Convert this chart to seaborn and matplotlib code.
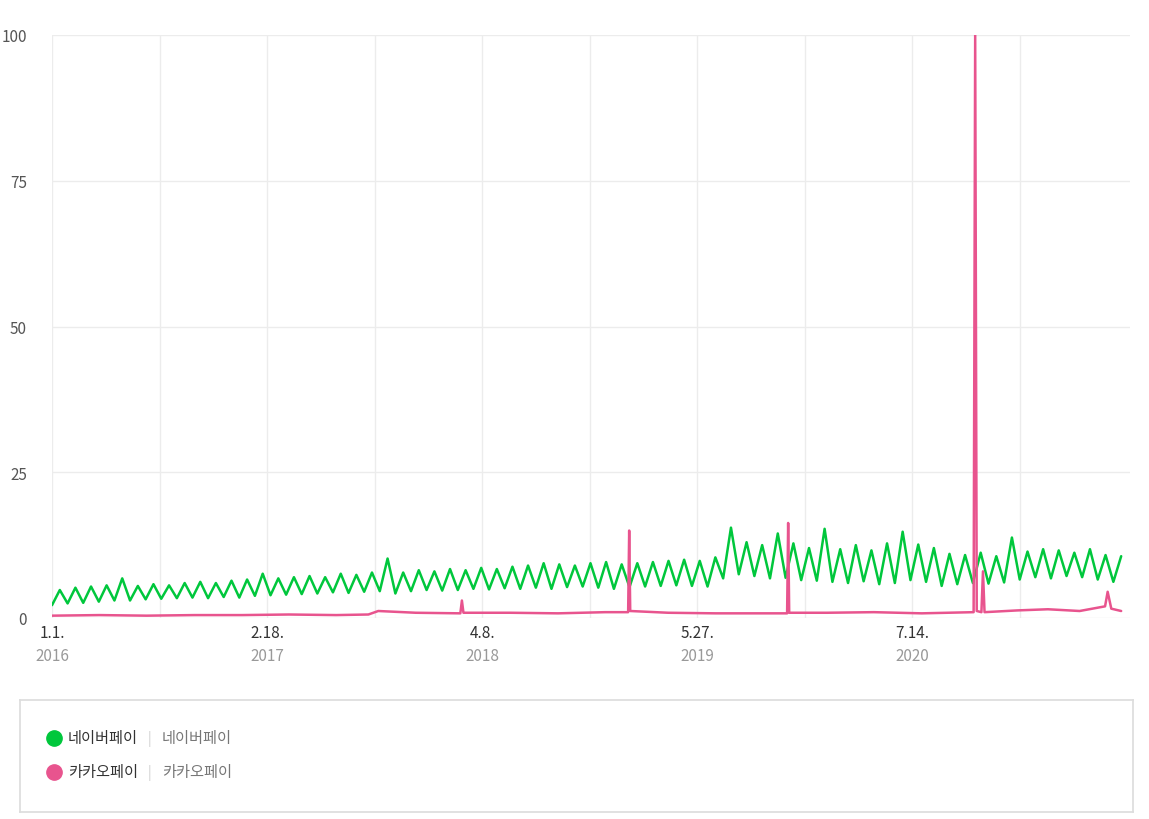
import matplotlib
matplotlib.use("Agg")
import matplotlib.pyplot as plt
import seaborn as sns
import pandas as pd
import numpy as np

sns.set_theme(style="white")
plt.rcParams['font.family'] = ['Noto Sans CJK KR', 'DejaVu Sans']

start = "2016-01-01"
end = "2021-08-20"
# Naver Pay: samples alternating peak/trough
naver = [
 2.2,4.8,2.5,5.2,2.6,5.4,2.8,5.6,3.0,6.8,3.0,5.5,3.2,5.8,3.3,5.6,3.4,6.0,3.5,6.2,3.4,6.0,3.6,6.4,
 3.5,6.6,3.8,7.6,3.9,6.8,4.0,7.0,4.1,7.2,4.2,7.0,4.4,7.6,4.3,7.4,4.5,7.8,4.6,10.2,4.2,7.8,4.6,8.2,
 4.8,8.0,4.7,8.4,4.8,8.2,5.0,8.6,4.9,8.4,5.1,8.8,5.0,9.0,5.2,9.4,5.0,9.2,5.3,9.0,5.4,9.4,5.2,9.6,
 5.0,9.2,5.3,9.4,5.4,9.6,5.5,9.8,5.6,10.0,5.5,9.8,5.4,10.4,6.8,15.5,7.5,13.0,7.2,12.5,6.8,14.5,6.9,12.8,
 6.5,12.0,6.4,15.3,6.2,11.8,6.0,12.5,6.3,11.6,5.8,12.8,6.0,14.8,6.5,12.6,6.2,12.0,5.5,11.0,5.8,10.8,
 6.0,11.2,5.9,10.6,6.1,13.8,6.6,11.4,7.0,11.8,6.8,11.6,7.2,11.2,7.0,11.8,6.6,10.8,6.2,10.6,
]
naver_dates = pd.date_range(start, end, periods=len(naver))

# Kakao Pay: base samples plus spikes
kakao_dates_str = [
 "2016-01-01","2016-04-01","2016-07-01","2016-10-01","2017-01-01","2017-04-01","2017-07-01",
 "2017-09-01","2017-09-20","2017-12-01","2018-02-25","2018-02-28","2018-03-03","2018-06-01",
 "2018-09-01","2018-12-01","2019-01-14","2019-01-16","2019-01-18","2019-04-01","2019-07-01",
 "2019-11-16","2019-11-18","2019-11-20","2020-02-01","2020-05-01","2020-08-01","2020-11-09",
 "2020-11-12","2020-11-15","2020-11-24","2020-11-27","2020-11-30","2021-02-01","2021-04-01",
 "2021-06-01","2021-07-20","2021-07-25","2021-08-01","2021-08-20",
]
kakao_vals = [
 0.4,0.5,0.4,0.5,0.5,0.6,0.5,
 0.6,1.2,0.9,0.8,3.0,0.9,0.9,
 0.8,1.0,1.0,15.0,1.2,0.9,0.8,
 0.8,16.3,0.9,0.9,1.0,0.8,1.0,
 100.0,1.2,1.0,8.0,1.0,1.3,1.5,
 1.2,2.0,4.5,1.6,1.2,
]
kakao_dates = pd.to_datetime(kakao_dates_str)

tick_dates = pd.to_datetime(["2016-01-01","2017-02-18","2018-04-08","2019-05-27","2020-07-14"])
tick_labels = ["1.1.","2.18.","4.8.","5.27.","7.14."]
tick_years = ["2016","2017","2018","2019","2020"]

fig = plt.figure(figsize=(11.49, 8.2), dpi=100)
ax = fig.add_axes([52/1149, 1-619/820, (1130-52)/1149, (619-36)/820])

sns.lineplot(x=naver_dates, y=naver, ax=ax, color="#00c73c", linewidth=1.8)
sns.lineplot(x=kakao_dates, y=kakao_vals, ax=ax, color="#e8548e", linewidth=1.8)

ax.set_xlim(pd.Timestamp("2016-01-01"), pd.Timestamp("2016-01-01") + pd.Timedelta(days=2075))
ax.set_ylim(0, 100)
ax.set_yticks([0, 25, 50, 75, 100])
ax.set_yticklabels(["0", "25", "50", "75", "100"], color="#555555", fontsize=11)
ax.set_xticks(tick_dates)
ax.set_xticklabels(tick_labels, color="#333333", fontsize=11)
minor = tick_dates[:-1] + (tick_dates[1:] - tick_dates[:-1]) / 2
ax.set_xticks(list(minor) + [tick_dates[-1] + (tick_dates[1]-tick_dates[0])/2], minor=True)
ax.tick_params(axis="both", length=0, pad=4)
ax.tick_params(axis="y", pad=18)
for d, yr in zip(tick_dates, tick_years):
    ax.annotate(yr, (d, 0), xytext=(0, -21), textcoords="offset points",
                ha="center", va="top", color="#999999", fontsize=11, xycoords=("data", "axes fraction"))
ax.grid(True, which="both", axis="x", color="#ececec", linewidth=1)
ax.grid(True, which="major", axis="y", color="#ececec", linewidth=1)
for s in ax.spines.values():
    s.set_visible(False)
ax.set_xlabel(""); ax.set_ylabel("")

# legend box
lax = fig.add_axes([20/1149, 1-813/820, (1133-20)/1149, (813-701)/820])
lax.set_xlim(0, 1113); lax.set_ylim(112, 0)
lax.set_xticks([]); lax.set_yticks([])
for s in lax.spines.values():
    s.set_color("#dddddd")
for yy, name, col in [(38, "네이버페이", "#00c73c"), (72, "카카오페이", "#e8548e")]:
    lax.plot([34], [yy], "o", color=col, markersize=11)
    lax.text(48, yy, name, va="center", fontsize=11, color="#333333")
    lax.text(128, yy, "|", va="center", fontsize=10, color="#cccccc")
    lax.text(142, yy, name, va="center", fontsize=11, color="#777777")

fig.savefig("out.png", dpi=100, facecolor="white")
